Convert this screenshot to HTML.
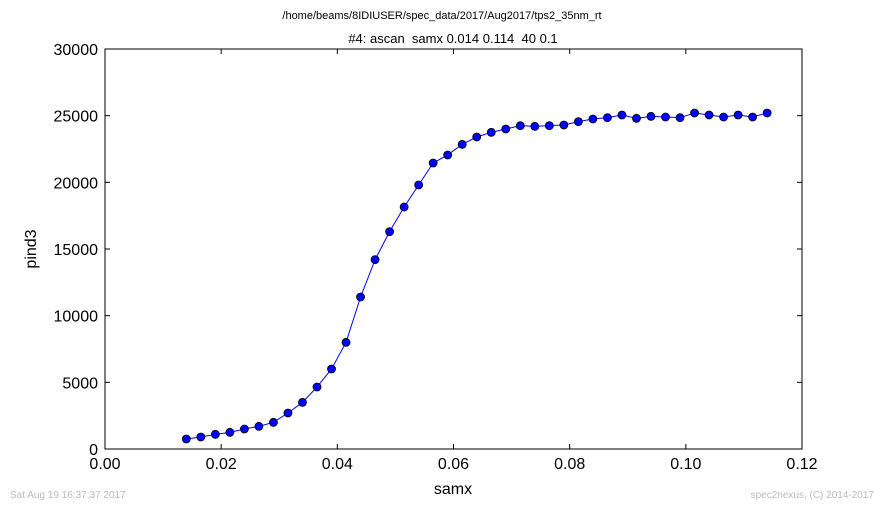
<!DOCTYPE html>
<html><head><meta charset="utf-8"><style>
body{margin:0;background:#fff;font-family:"Liberation Sans","DejaVu Sans",sans-serif;}
svg text{font-family:"Liberation Sans","DejaVu Sans",sans-serif;}
</style></head><body>
<svg id="chart" width="884" height="509">
<rect width="884" height="509" fill="#fff"/>
<text x="442" y="19" font-size="11" text-anchor="middle">/home/beams/8IDIUSER/spec_data/2017/Aug2017/tps2_35nm_rt</text>
<text x="453" y="43" font-size="13" text-anchor="middle" xml:space="preserve" style="white-space:pre">#4: ascan  samx 0.014 0.114  40 0.1</text>
<rect x="105" y="49" width="697" height="400" fill="none" stroke="#000" stroke-width="1"/>
<g id="ticks"></g>
<path id="line" fill="none" stroke="#0000ff" stroke-width="1"/>
<g id="points"></g>
<text x="453" y="494" font-size="16" text-anchor="middle">samx</text>
<text transform="translate(36,249) rotate(-90)" font-size="16" text-anchor="middle">pind3</text>
<text x="10" y="498" font-size="10" fill="#bbb">Sat Aug 19 16:37:37 2017</text>
<text x="874" y="498" font-size="10" fill="#bbb" text-anchor="end">spec2nexus, (C) 2014-2017</text>
</svg>
<script>
const xs=[0.014,0.0165,0.019,0.0215,0.024,0.0265,0.029,0.0315,0.034,0.0365,0.039,0.0415,0.044,0.0465,0.049,0.0515,0.054,0.0565,0.059,0.0615,0.064,0.0665,0.069,0.0715,0.074,0.0765,0.079,0.0815,0.084,0.0865,0.089,0.0915,0.094,0.0965,0.099,0.1015,0.104,0.1065,0.109,0.1115,0.114];
const ys=[750,900,1100,1250,1500,1700,2000,2700,3500,4650,6000,8000,11400,14200,16300,18150,19800,21450,22050,22850,23400,23750,24000,24250,24200,24250,24300,24550,24750,24850,25050,24800,24950,24900,24850,25200,25050,24900,25050,24900,25200];
const xTicks=[0,0.02,0.04,0.06,0.08,0.10,0.12];
const xTickLabels=["0.00","0.02","0.04","0.06","0.08","0.10","0.12"];
const yTicks=[0,5000,10000,15000,20000,25000,30000];
const NS="http://www.w3.org/2000/svg";
function sx(v){return 105+v/0.12*697;}
function sy(v){return 449-v/30000*400;}
const tg=document.getElementById('ticks');
function mk(tag,attrs,parent){const e=document.createElementNS(NS,tag);for(const k in attrs)e.setAttribute(k,attrs[k]);parent.appendChild(e);return e;}
xTicks.forEach((t,i)=>{const x=sx(t);
 const l1=mk('line',{x1:x,x2:x,y1:449,y2:444,stroke:'#000'},tg);
 
 
 const l2=mk('line',{x1:x,x2:x,y1:49,y2:54,stroke:'#000'},tg);
 
 
 const tx=mk('text',{x:x,y:469,'font-size':16,'text-anchor':'middle'},tg);tx.textContent=xTickLabels[i];
 
 
});
yTicks.forEach(t=>{const y=sy(t);
 const l1=mk('line',{x1:105,x2:110,y1:y,y2:y,stroke:'#000'},tg);
 
 
 const l2=mk('line',{x1:797,x2:802,y1:y,y2:y,stroke:'#000'},tg);
 
 
 const tx=mk('text',{x:98,y:y+6,'font-size':16,'text-anchor':'end'},tg);tx.textContent=String(t);
 
 
});
document.getElementById('line').setAttribute('d',xs.map((x,i)=>(i?'L':'M')+sx(x)+','+sy(ys[i])).join(''));
const pg=document.getElementById('points');
xs.forEach((x,i)=>{const c=mk('circle',{cx:sx(x),cy:sy(ys[i]),r:4,fill:'#0000ff',stroke:'#000','stroke-width':0.8},pg);
 
 
});
</script>
</body></html>
